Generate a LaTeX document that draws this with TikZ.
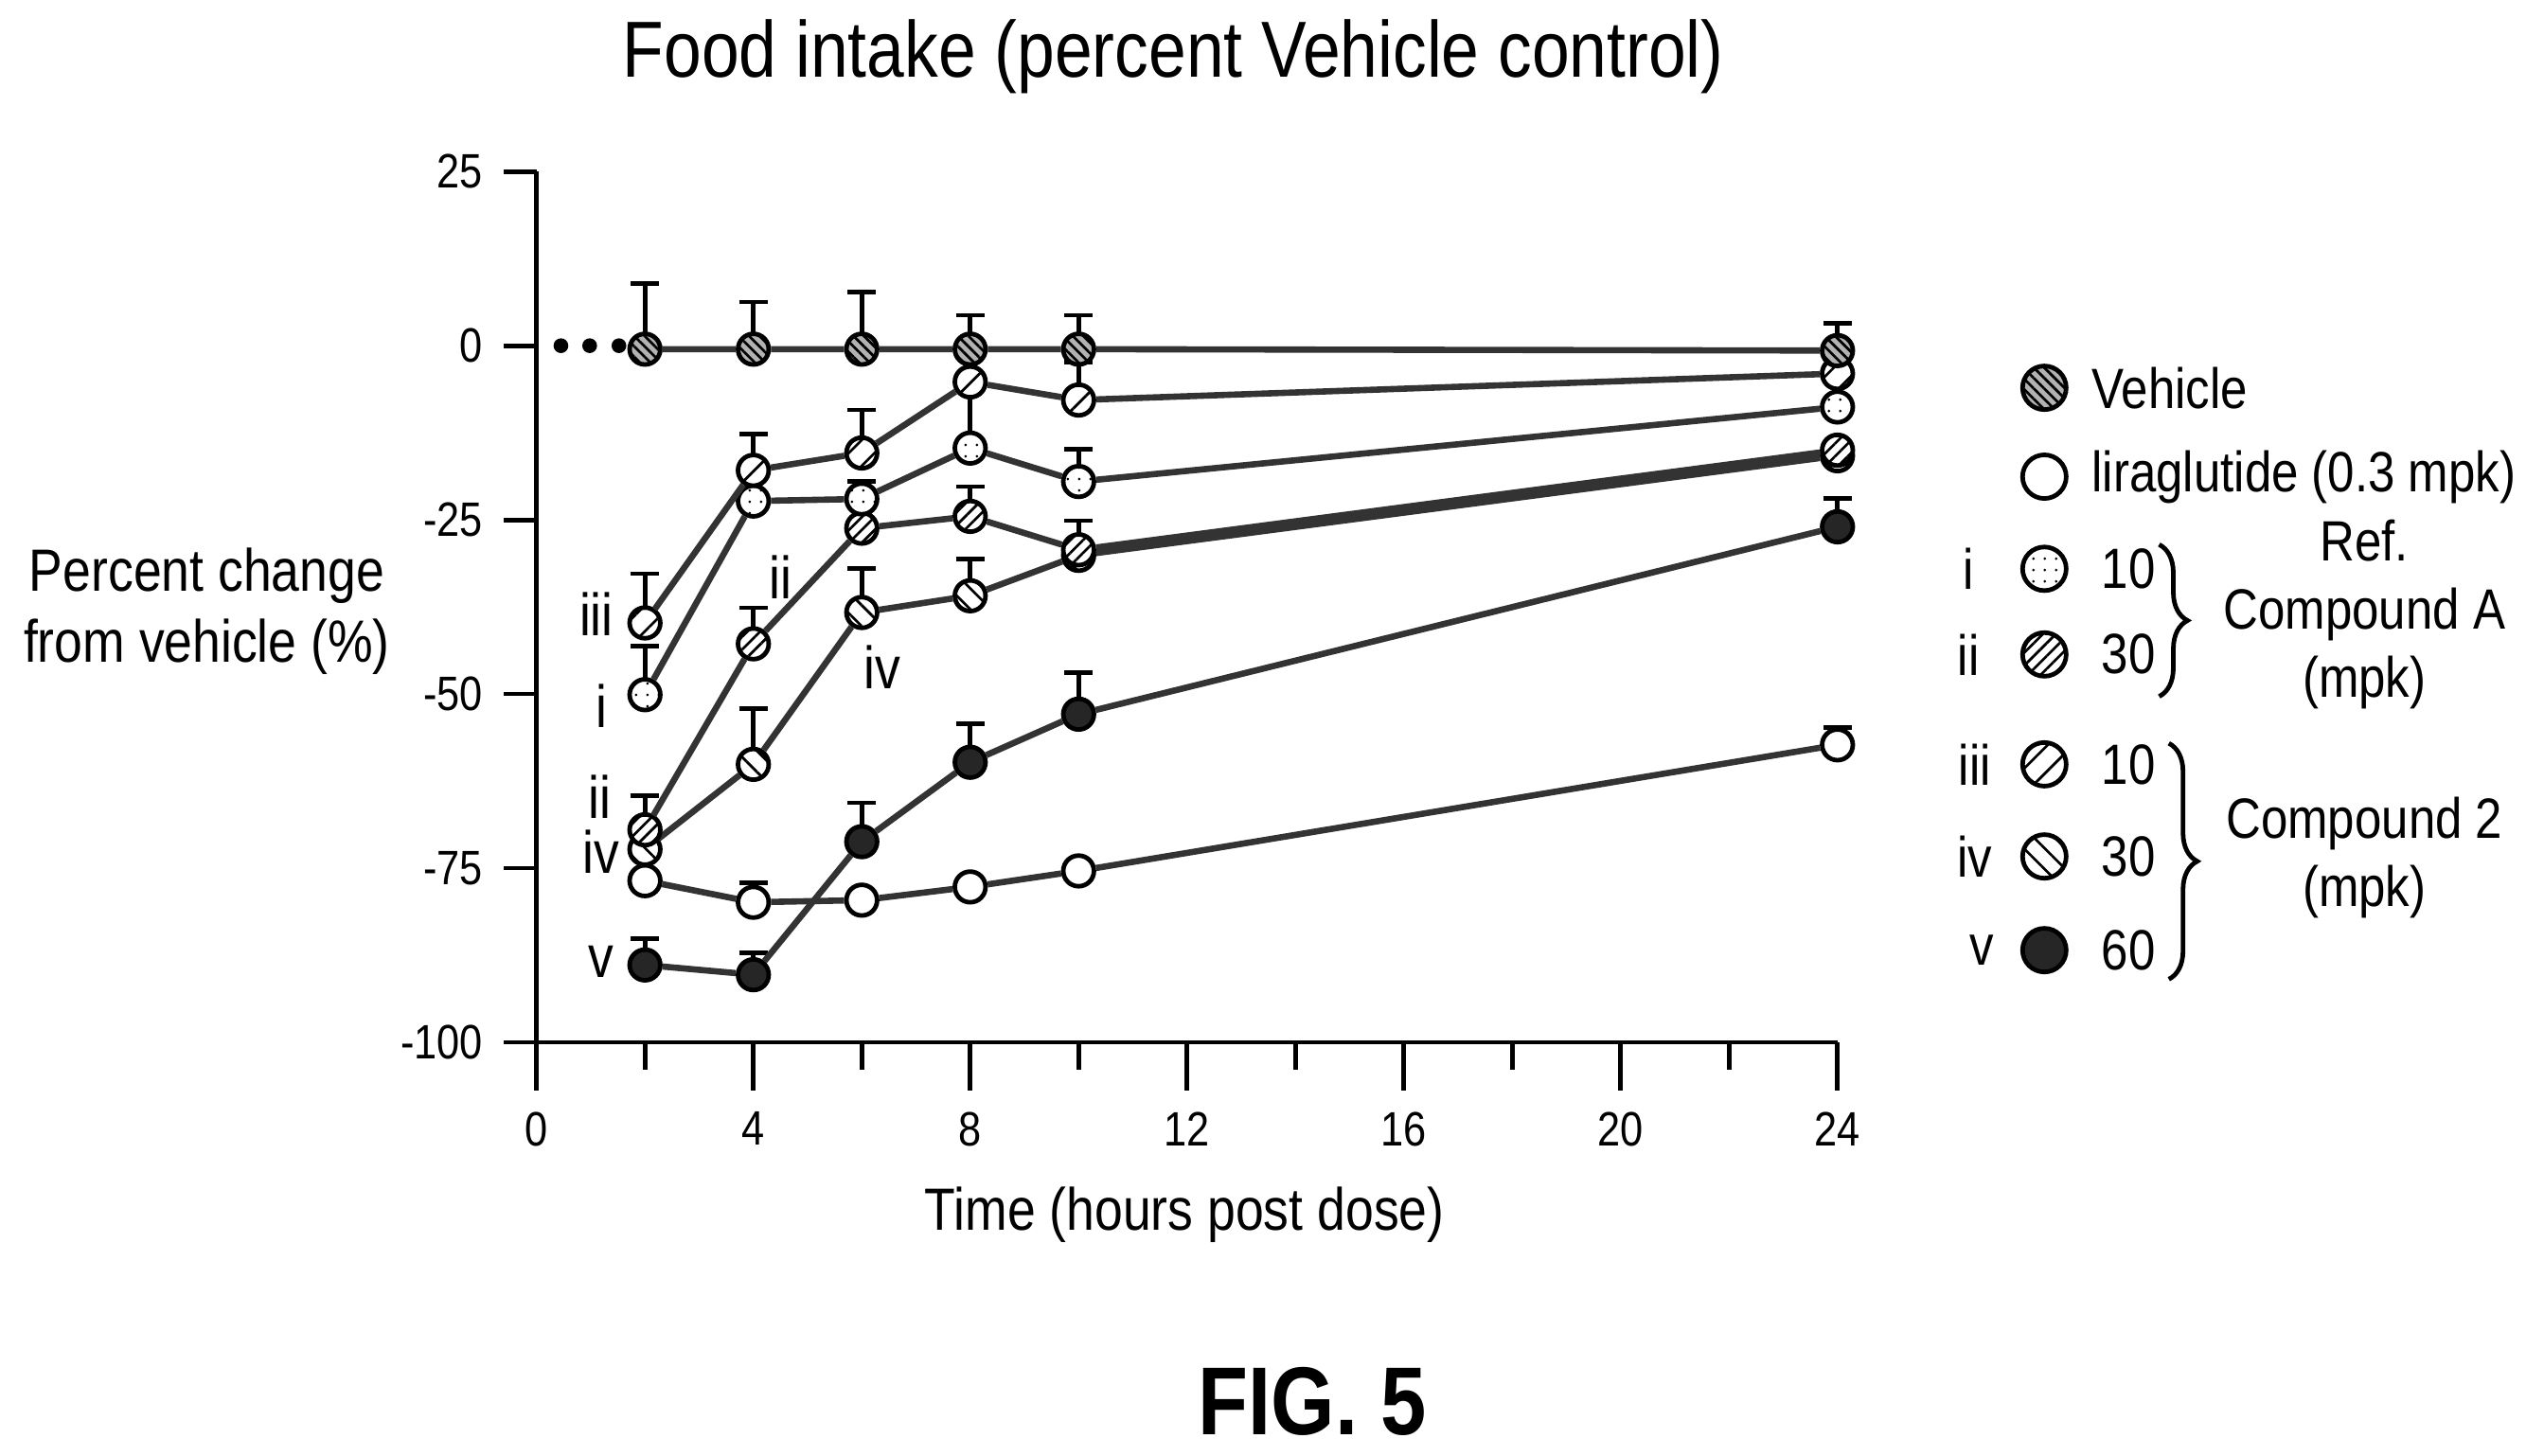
\documentclass[tikz,border=0pt]{standalone}
\usepackage{fontspec}
\setmainfont[FakeStretch=0.85]{Liberation Sans}
\usetikzlibrary{patterns.meta,arrows.meta,decorations.pathreplacing}

\tikzset{
  pt/.style={circle,draw,thick,fill=white,inner sep=0pt,minimum size=0.19cm},
  veh/.style={pt,preaction={fill=gray!60},pattern={Lines[angle=-45,distance=1.3pt,line width=0.45pt]}},
  lira/.style={pt},
  refa/.style={pt,preaction={fill=white},pattern={Dots[distance=2pt,radius=0.25pt]}},
  refb/.style={pt,preaction={fill=white},pattern={Lines[angle=45,distance=1.6pt,line width=0.45pt]}},
  cpa/.style={pt,preaction={fill=white},pattern={Lines[angle=45,distance=3.2pt,line width=0.45pt]}},
  cpb/.style={pt,preaction={fill=white},pattern={Lines[angle=-45,distance=2.6pt,line width=0.45pt]}},
  cpc/.style={pt,fill=black!85},
  series/.style={line width=1.1pt,black!80},
  errbar/.style={thick,-{Bar[width=5pt]}},
  tick/.style={font=\fontsize{8.5}{10}\selectfont},
  lab/.style={font=\fontsize{10.5}{12.5}\selectfont},
  keytext/.style={font=\fontsize{10}{12}\selectfont},
  big/.style={minimum size=0.27cm}
}

\begin{document}
\begin{tikzpicture}
\useasboundingbox (0,0) rectangle (15.63,9.01);

% titles
\node[lab,font=\fontsize{14}{16}\selectfont] (title) at (7.26,8.66) {Food intake (percent Vehicle control)};
\node[lab,align=center] (ylab) at (1.28,5.23) {Percent change\\from vehicle (\%)};
\node[lab] (xlab) at (7.33,1.49) {Time (hours post dose)};
\node[font=\bfseries\fontsize{17}{19}\selectfont] (fig) at (8.12,0.34) {FIG. 5};

\begin{scope}[shift={(3.32,2.56)},x=0.3354cm,y=0.0431cm]
% axes
\draw[thick] (0,125) -- (0,0) -- (24,0);
\foreach \v/\t in {125/25,100/0,75/-25,50/-50,25/-75,0/-100}
  \draw[thick] (0,\v) -- (-0.6,\v) node[tick,left] {\t};
\foreach \h in {0,4,...,24}
  \draw[thick] (\h,0) -- (\h,-7) node[tick,below] {\h};
\foreach \h in {2,6,...,22}
  \draw[thick] (\h,0) -- (\h,-4);
\foreach \h in {0.45,0.98,1.52}
  \fill (\h,100) circle (1.3pt);

% error bars (drawn first)
\draw[errbar] (2,99.5) -- (2,109.3);
\draw[errbar] (4,99.5) -- (4,106.6);
\draw[errbar] (6,99.5) -- (6,108);
\draw[errbar] (8,99.5) -- (8,104.7);
\draw[errbar] (10,99.5) -- (10,104.7);
\draw[errbar] (24,99.3) -- (24,103.5);
\draw[errbar] (2,60.2) -- (2,67.6);
\draw[errbar] (4,82.1) -- (4,87.6);
\draw[errbar] (6,84.6) -- (6,91.1);
\draw[errbar] (10,92.2) -- (10,98);
\draw[errbar] (2,49.9) -- (2,57.2);
\draw[errbar] (6,78) -- (6,80.8);
\draw[thick] (8,85.3) -- (8,92.6);
\draw[errbar] (10,80.5) -- (10,85.5);
\draw[errbar] (2,30.5) -- (2,35.7);
\draw[errbar] (4,57.2) -- (4,62.7);
\draw[errbar] (6,73.8) -- (6,79.4);
\draw[errbar] (8,75.5) -- (8,80.1);
\draw[errbar] (10,70.7) -- (10,75.2);
\draw[errbar] (4,39.9) -- (4,48.2);
\draw[errbar] (6,61.7) -- (6,68.3);
\draw[errbar] (8,64.1) -- (8,69.7);
\draw[errbar] (4,20.1) -- (4,23.2);
\draw[errbar] (24,42.7) -- (24,45.5);
\draw[errbar] (2,11.1) -- (2,15.2);
\draw[errbar] (4,9.7) -- (4,13.2);
\draw[errbar] (6,28.8) -- (6,34.7);
\draw[errbar] (8,40.2) -- (8,46.1);
\draw[errbar] (10,47.1) -- (10,53.4);
\draw[errbar] (24,74) -- (24,78.4);

% liraglutide
\node[lira] (l2) at (2,23.2) {};
\node[lira] (l4) at (4,20.1) {};
\node[lira] (l6) at (6,20.4) {};
\node[lira] (l8) at (8,22.3) {};
\node[lira] (l10) at (10,24.6) {};
\node[lira] (l24) at (24,42.7) {};
\draw[series] (l2) -- (l4) -- (l6) -- (l8) -- (l10) -- (l24);

% compound 2, 60 mpk
\node[cpc] (c2) at (2,11.1) {};
\node[cpc] (c4) at (4,9.7) {};
\node[cpc] (c6) at (6,28.8) {};
\node[cpc] (c8) at (8,40.2) {};
\node[cpc] (c10) at (10,47.1) {};
\node[cpc] (c24) at (24,74) {};
\draw[series] (c2) -- (c4) -- (c6) -- (c8) -- (c10) -- (c24);

% compound 2, 30 mpk
\node[cpb] (b2) at (2,27.7) {};
\node[cpb] (b4) at (4,39.9) {};
\node[cpb] (b6) at (6,61.7) {};
\node[cpb] (b8) at (8,64.1) {};
\node[cpb] (b10) at (10,69.9) {};
\node[cpb] (b24) at (24,84.2) {};
\draw[series] (b2) -- (b4) -- (b6) -- (b8) -- (b10) -- (b24);

% ref A, 30 mpk
\node[refb] (r2) at (2,30.5) {};
\node[refb] (r4) at (4,57.2) {};
\node[refb] (r6) at (6,73.8) {};
\node[refb] (r8) at (8,75.5) {};
\node[refb] (r10) at (10,70.7) {};
\node[refb] (r24) at (24,85) {};
\draw[series] (r2) -- (r4) -- (r6) -- (r8) -- (r10) -- (r24);

% ref A, 10 mpk
\node[refa] (a2) at (2,49.9) {};
\node[refa] (a4) at (4,77.7) {};
\node[refa] (a6) at (6,78) {};
\node[refa] (a8) at (8,85.3) {};
\node[refa] (a10) at (10,80.5) {};
\node[refa] (a24) at (24,91.2) {};
\draw[series] (a2) -- (a4) -- (a6) -- (a8) -- (a10) -- (a24);

% compound 2, 10 mpk
\node[cpa] (p2) at (2,60.2) {};
\node[cpa] (p4) at (4,82.1) {};
\node[cpa] (p6) at (6,84.6) {};
\node[cpa] (p8) at (8,94.8) {};
\node[cpa] (p10) at (10,92.2) {};
\node[cpa] (p24) at (24,96) {};
\draw[series] (p2) -- (p4) -- (p6) -- (p8) -- (p10) -- (p24);

% vehicle
\node[veh] (v2) at (2,99.5) {};
\node[veh] (v4) at (4,99.5) {};
\node[veh] (v6) at (6,99.5) {};
\node[veh] (v8) at (8,99.5) {};
\node[veh] (v10) at (10,99.5) {};
\node[veh] (v24) at (24,99.3) {};
\draw[series] (v2) -- (v4) -- (v6) -- (v8) -- (v10) -- (v24);
\end{scope}

% series tags in the plot
\node[lab] (t1) at (3.69,5.21) {iii};
\node[lab] (t2) at (3.72,4.64) {i};
\node[lab] (t3) at (4.83,5.44) {ii};
\node[lab] (t4) at (5.46,4.88) {iv};
\node[lab] (t5) at (3.71,4.08) {ii};
\node[lab] (t6) at (3.72,3.74) {iv};
\node[lab] (t7) at (3.72,3.06) {v};

% legend
\node[veh,big] (kveh) at (12.65,6.61) {};
\node[keytext,right] (tveh) at (12.82,6.61) {Vehicle};
\node[lira,big] (klira) at (12.65,6.06) {};
\node[keytext,right] (tlira) at (12.82,6.06) {liraglutide (0.3 mpk)};
\node[refa,big] (ka) at (12.65,5.49) {};
\node[keytext] at (12.18,5.49) {i};
\node[keytext,right] (ta) at (12.88,5.49) {10};
\node[refb,big] (kb) at (12.65,4.96) {};
\node[keytext] at (12.18,4.96) {ii};
\node[keytext,right] (tb) at (12.88,4.96) {30};
\node[cpa,big] (kc) at (12.65,4.28) {};
\node[keytext] at (12.22,4.28) {iii};
\node[keytext,right] (tc) at (12.88,4.28) {10};
\node[cpb,big] (kd) at (12.65,3.71) {};
\node[keytext] at (12.22,3.71) {iv};
\node[keytext,right] (td) at (12.88,3.71) {30};
\node[cpc,big] (ke) at (12.65,3.13) {};
\node[keytext] at (12.26,3.13) {v};
\node[keytext,right] (te) at (12.88,3.13) {60};

\draw[thick,decorate,decoration={brace,amplitude=5pt}] (13.36,5.64) -- (13.36,4.70);
\draw[thick,decorate,decoration={brace,amplitude=5pt}] (13.42,4.41) -- (13.42,2.95);
\node[keytext,align=center] (grpa) at (14.63,5.21) {Ref.\\Compound A\\(mpk)};
\node[keytext,align=center] (grpb) at (14.63,3.7) {Compound 2\\(mpk)};
\end{tikzpicture}
\end{document}
